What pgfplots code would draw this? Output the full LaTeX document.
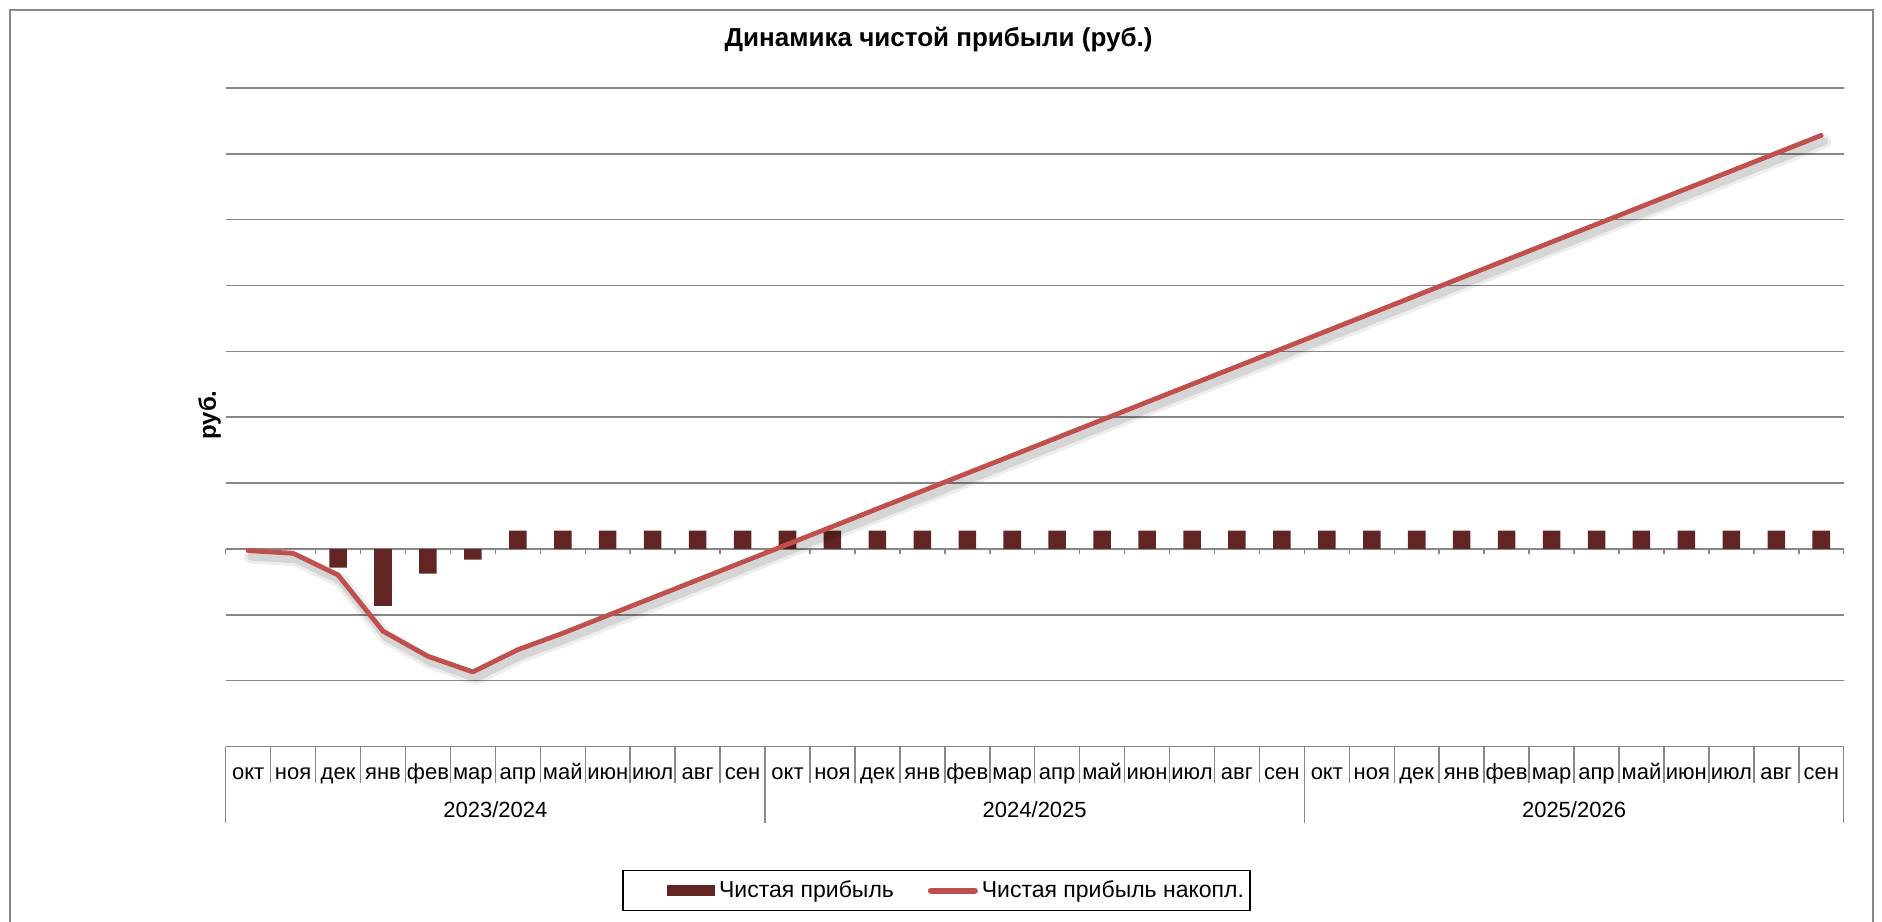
\documentclass[border=0pt]{standalone}
\usepackage{pgfplots}
\pgfplotsset{compat=1.18}
\usepackage{fontspec}
\setmainfont{Liberation Sans}
\definecolor{barcol}{HTML}{632523}
\definecolor{linecol}{HTML}{C0504D}
\definecolor{gridgray}{HTML}{878787}
\pgfplotstableread{
x bar cum
0.5 0 -0.025
1.5 0 -0.066
2.5 -0.284 -0.396
3.5 -0.863 -1.249
4.5 -0.376 -1.63
5.5 -0.162 -1.868
6.5 0.28 -1.53
7.5 0.28 -1.28
8.5 0.28 -1.01
9.5 0.28 -0.74
10.5 0.28 -0.47
11.5 0.28 -0.20
12.5 0.28 0.07
13.5 0.28 0.34
14.5 0.28 0.61
15.5 0.28 0.88
16.5 0.28 1.15
17.5 0.28 1.42
18.5 0.28 1.69
19.5 0.28 1.96
20.5 0.28 2.23
21.5 0.28 2.50
22.5 0.28 2.77
23.5 0.28 3.04
24.5 0.28 3.31
25.5 0.28 3.58
26.5 0.28 3.85
27.5 0.28 4.12
28.5 0.28 4.39
29.5 0.28 4.66
30.5 0.28 4.93
31.5 0.28 5.20
32.5 0.28 5.47
33.5 0.28 5.74
34.5 0.28 6.01
35.5 0.28 6.28
}\datatable
\begin{document}
\begin{tikzpicture}
\begin{axis}[
  at={(112.85pt,87.25pt)}, anchor=south west,
  scale only axis, width=809pt, height=329.25pt,
  xmin=0, xmax=36, ymin=-3, ymax=7,
  clip=false,
  axis line style={draw=none},
  tick style={draw=none},
  major tick length=0pt,
  ytick={-3,-2,...,7}, yticklabels={},
  ymajorgrids, grid style={gridgray, line width=0.75pt},
  xtick={0.5,1.5,...,35.5},
  xticklabels={окт,ноя,дек,янв,фев,мар,апр,май,июн,июл,авг,сен,окт,ноя,дек,янв,фев,мар,апр,май,июн,июл,авг,сен,окт,ноя,дек,янв,фев,мар,апр,май,июн,июл,авг,сен},
  xticklabel style={anchor=base, yshift=-16.4pt, inner sep=0pt, font=\fontsize{11}{13}\selectfont},
  legend columns=2,
  legend style={at={(0.4393,-0.2187)}, anchor=center, draw=black, line width=0.6pt,
    font=\fontsize{11.5}{13}\selectfont, inner xsep=1pt, inner ysep=3pt,
    /tikz/every even column/.append style={column sep=15pt}},
]
\pgfplotsinvokeforeach{0,...,36}{
  \draw[gridgray, line width=0.75pt] (axis cs:#1,0) -- ([yshift=-2.7pt]axis cs:#1,0);
  \draw[gridgray, line width=0.75pt] (axis cs:#1,-3) -- (axis cs:#1,-3.554);
}
\pgfplotsinvokeforeach{0,12,24,36}{
  \draw[gridgray, line width=0.75pt] (axis cs:#1,-3) -- (axis cs:#1,-4.162);
}
\node[anchor=base, yshift=-35.4pt, font=\fontsize{11}{13}\selectfont] at (axis cs:6,-3) {2023/2024};
\node[anchor=base, yshift=-35.4pt, font=\fontsize{11}{13}\selectfont] at (axis cs:18,-3) {2024/2025};
\node[anchor=base, yshift=-35.4pt, font=\fontsize{11}{13}\selectfont] at (axis cs:30,-3) {2025/2026};

\addplot[ybar, bar width=0.39, fill=barcol, draw=none,
  legend image code/.code={\path (-21pt,0pt); \fill[barcol] (0pt,-2.7pt) rectangle (24pt,2.7pt);}]
  table[x=x, y=bar] {\datatable};
\addlegendentry{Чистая прибыль}

\addplot[forget plot, black, opacity=0.07, line width=7pt, line join=round, line cap=round, xshift=1.5pt, yshift=-3pt]
  table[x=x, y=cum] {\datatable};
\addplot[forget plot, black, opacity=0.10, line width=4pt, line join=round, line cap=round, xshift=1.5pt, yshift=-3pt]
  table[x=x, y=cum] {\datatable};
\addplot[linecol, line width=2.4pt, line join=round, line cap=round,
  legend image code/.code={\draw[linecol, line width=3pt, line cap=round] (1pt,0pt) -- (23pt,0pt);}]
  table[x=x, y=cum] {\datatable};
\addlegendentry{Чистая прибыль накопл.}
\end{axis}
\node[font=\bfseries\fontsize{13}{15}\selectfont] at (469.3pt,440.65pt) {Динамика чистой прибыли (руб.)};
\node[rotate=90, font=\bfseries\fontsize{12}{14}\selectfont] at (104.8pt,253pt) {руб.};
\draw[gridgray, line width=1pt] (4.8pt,-5pt) rectangle (936.5pt,455.5pt);
\pgfresetboundingbox
\path[use as bounding box] (0,0) rectangle (941pt,460.5pt);
\end{tikzpicture}
\end{document}
